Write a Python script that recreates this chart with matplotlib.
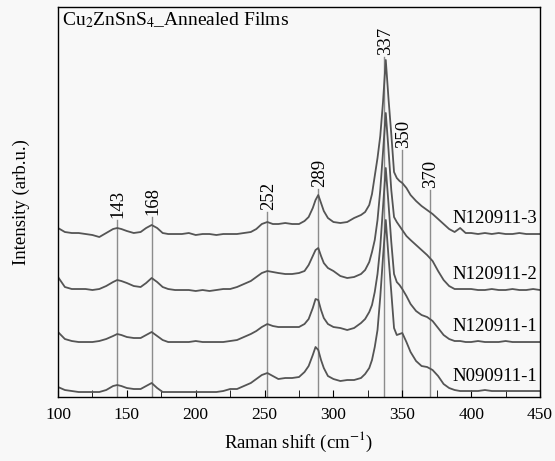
import matplotlib.pyplot as plt
from matplotlib.ticker import MultipleLocator

plt.rcParams['font.family'] = ['Liberation Serif', 'DejaVu Serif']
plt.rcParams['mathtext.fontset'] = 'stix'

# Raman shift grid (cm-1)
shift = [100, 105, 110, 115, 120, 125, 130, 135, 140, 143, 146, 150, 155, 160, 164, 168, 172, 176,
         180, 185, 190, 195, 200, 205, 210, 215, 220, 225, 230, 235, 240, 244, 248, 252, 256, 260,
         265, 270, 275, 279, 282, 285, 287, 289, 291, 293, 296, 300, 305, 310, 315, 320, 323, 326,
         328, 330, 332, 334, 336, 338, 340, 342, 344, 346, 348, 350, 353, 356, 360, 364, 368, 372,
         376, 380, 384, 388, 392, 396, 400, 405, 410, 415, 420, 425, 430, 435, 440, 445, 450]

# intensities (arb.u.)
n090911_1 = [5, 2, 1, 0, 0, 0, 0, 2, 6, 7, 6, 4, 3, 3, 6, 9, 4, 0,
             0, 0, 0, 0, 0, 0, 0, 0, 1, 3, 3, 6, 9, 13, 17, 19, 16, 13,
             14, 14, 15, 20, 26, 37, 45, 42, 32, 24, 16, 13, 11, 12, 12, 14, 18, 24,
             32, 45, 62, 95, 135, 172, 135, 100, 64, 57, 58, 59, 50, 40, 31, 26, 25, 22,
             16, 8, 4, 2, 1, 1, 1, 1, 2, 1, 1, 1, 1, 1, 1, 1, 1]
n120911_1 = [10, 3, 1, 0, 0, 0, 1, 3, 6, 8, 7, 5, 4, 4, 7, 10, 6, 2,
             0, 0, 0, 0, 1, 0, 0, 0, 0, 1, 2, 5, 8, 11, 15, 18, 16, 15,
             15, 15, 15, 18, 23, 34, 43, 42, 32, 24, 18, 15, 14, 12, 14, 19, 23, 30,
             37, 50, 68, 95, 135, 174, 138, 100, 68, 60, 57, 53, 46, 38, 31, 27, 25, 21,
             14, 7, 3, 1, 1, 0, 0, 1, 0, 0, 0, 1, 0, 0, 0, 0, 0]
n120911_2 = [13, 3, 1, 1, 1, 0, 1, 4, 8, 10, 9, 7, 4, 3, 7, 12, 8, 3,
             1, 0, 0, 0, -1, 0, -1, 0, 1, 1, 3, 6, 9, 13, 17, 19, 18, 17,
             16, 16, 17, 19, 25, 34, 40, 42, 34, 27, 22, 19, 14, 12, 13, 16, 20, 28,
             38, 50, 70, 100, 138, 177, 140, 100, 73, 68, 64, 60, 54, 50, 45, 40, 35, 29,
             19, 10, 4, 1, 1, 1, 1, 0, 0, 1, 0, 0, 1, 0, 0, 1, 0]
n120911_3 = [6, 2, 1, 1, 0, -1, -3, 1, 5, 6, 5, 3, 1, 2, 6, 9, 6, 1,
             0, 0, 0, 1, -1, 0, 0, -1, 0, 0, 0, 1, 2, 5, 10, 12, 10, 10,
             11, 10, 10, 13, 17, 26, 34, 39, 31, 23, 16, 12, 11, 12, 16, 19, 22, 29,
             40, 58, 76, 98, 132, 174, 135, 100, 62, 56, 53, 51, 46, 39, 33, 28, 24, 20,
             15, 10, 5, 2, 6, 1, 1, 0, 1, 0, 1, 0, 0, 1, 0, 0, 0]

samples = ['N090911-1', 'N120911-1', 'N120911-2', 'N120911-3']
spectra = [n090911_1, n120911_1, n120911_2, n120911_3]
offsets = [5, 55, 107, 163]

peaks = [143, 168, 252, 289, 337, 350, 370]
peak_tops = [177, 180, 185, 208, 340, 247, 207]

bg = '#f8f8f8'
fig = plt.figure(figsize=(5.55, 4.61), dpi=100, facecolor=bg)
ax = fig.add_axes([0.1045, 0.1388, 0.8685, 0.846], facecolor=bg)

for p, top in zip(peaks, peak_tops):
    ax.plot([p, p], [0, top], color='#8c8c8c', lw=1.0, zorder=1)
    ax.text(p + 0.8, top + 2, str(p), rotation=90, ha='center', va='bottom', fontsize=13.5)

for name, y, off in zip(samples, spectra, offsets):
    ax.plot(shift, [v + off for v in y], color='#555555', lw=1.3, zorder=2)
    ax.text(448, off + 11, name, ha='right', va='baseline', fontsize=13.5)

ax.text(103, 372, r'Cu$_2$ZnSnS$_4$_Annealed Films', fontsize=14, va='baseline')

ax.set_xlim(100, 450)
ax.set_ylim(0, 390)
ax.set_yticks([])
ax.xaxis.set_major_locator(MultipleLocator(50))
ax.xaxis.set_minor_locator(MultipleLocator(25))
ax.tick_params(axis='x', which='both', direction='in', length=5, labelsize=12.5, pad=7)
ax.set_xlabel('Raman shift (cm$^{-1}$)', fontsize=13.5, labelpad=5)
ax.set_ylabel('Intensity (arb.u.)', fontsize=13.5, labelpad=20)
for s in ax.spines.values():
    s.set_linewidth(1.0)

plt.savefig('out.png', dpi=100, facecolor=bg)
